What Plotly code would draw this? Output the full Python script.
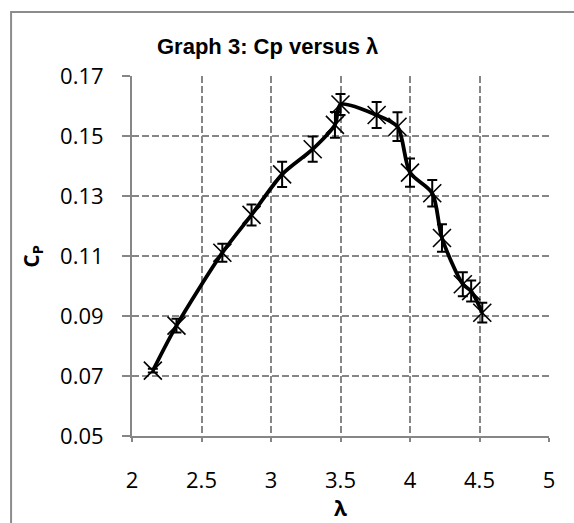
import plotly.graph_objects as go

# Data
tsr = [2.15, 2.32, 2.65, 2.86, 3.08, 3.30, 3.46, 3.50, 3.76, 3.91, 4.00, 4.16, 4.23, 4.38, 4.44, 4.52]
cp = [0.0718, 0.0868, 0.1111, 0.1237, 0.1372, 0.1456, 0.1537, 0.1605, 0.1570, 0.1531, 0.1378, 0.1309, 0.1160, 0.1006, 0.0983, 0.0911]
cp_err = [0.0006, 0.0023, 0.0030, 0.0035, 0.0042, 0.0042, 0.0043, 0.0035, 0.0043, 0.0048, 0.0047, 0.0044, 0.0046, 0.0040, 0.0035, 0.0033]

x_ticks = [2, 2.5, 3, 3.5, 4, 4.5, 5]
x_tick_labels = ["2", "2.5", "3", "3.5", "4", "4.5", "5"]
y_ticks = [0.05, 0.07, 0.09, 0.11, 0.13, 0.15, 0.17]
y_tick_labels = ["0.05", "0.07", "0.09", "0.11", "0.13", "0.15", "0.17"]

grid_col = "#868686"
tick_font = dict(family="Open Sans", size=22, color="#000000")

fig = go.Figure()
fig.add_trace(go.Scatter(
    x=tsr, y=cp,
    mode="lines+markers",
    line=dict(color="black", width=3.8, shape="spline", smoothing=0.8),
    marker=dict(symbol="x-thin-open", size=18, color="black",
                line=dict(color="black", width=1.6)),
    error_y=dict(type="data", array=cp_err, visible=True,
                 color="black", thickness=2, width=5),
    showlegend=False,
))

fig.update_layout(
    width=574, height=523,
    margin=dict(l=132, r=25, t=76, b=87),
    paper_bgcolor="white", plot_bgcolor="white",
    showlegend=False,
    xaxis=dict(
        range=[2, 5], tickvals=x_ticks, ticktext=x_tick_labels,
        showgrid=True, gridcolor=grid_col, gridwidth=1.5, griddash="7px,3px",
        showline=True, linecolor=grid_col, linewidth=2,
        ticks="outside", ticklen=4, tickcolor=grid_col, tickwidth=2,
        ticklabelstandoff=20, tickfont=tick_font, zeroline=False,
    ),
    yaxis=dict(
        range=[0.05, 0.17], tickvals=y_ticks, ticktext=y_tick_labels,
        showgrid=True, gridcolor=grid_col, gridwidth=1.5, griddash="7px,3px",
        showline=True, linecolor=grid_col, linewidth=2,
        ticks="outside", ticklen=8, tickcolor=grid_col, tickwidth=2,
        ticklabelstandoff=14, tickfont=tick_font, zeroline=False,
    ),
    shapes=[dict(type="rect", xref="paper", yref="paper",
                 x0=-0.290, x1=1.3, y0=-0.4, y1=1.178,
                 line=dict(color="#8c8c8c", width=2), layer="below")],
    annotations=[
        dict(text="<b>Graph 3: Cp versus λ</b>", xref="paper", yref="paper",
             x=0.324, y=1.0806, xanchor="center", yanchor="middle", showarrow=False,
             font=dict(family="Liberation Sans", size=22, color="black")),
        dict(text="<b>λ</b>", xref="paper", yref="paper",
             x=0.5, y=-0.2, xanchor="center", yanchor="middle", showarrow=False,
             font=dict(family="Open Sans", size=21, color="black")),
        dict(text="<b>C<sub>P</sub></b>", xref="paper", yref="paper",
             x=-0.2405, y=0.5, xanchor="center", yanchor="middle", showarrow=False,
             textangle=-90,
             font=dict(family="Open Sans", size=21, color="black")),
    ],
)

fig.write_html("out.html", config={"displayModeBar": False},
               post_script="document.body.style.margin='0px';document.body.style.overflow='hidden';")
